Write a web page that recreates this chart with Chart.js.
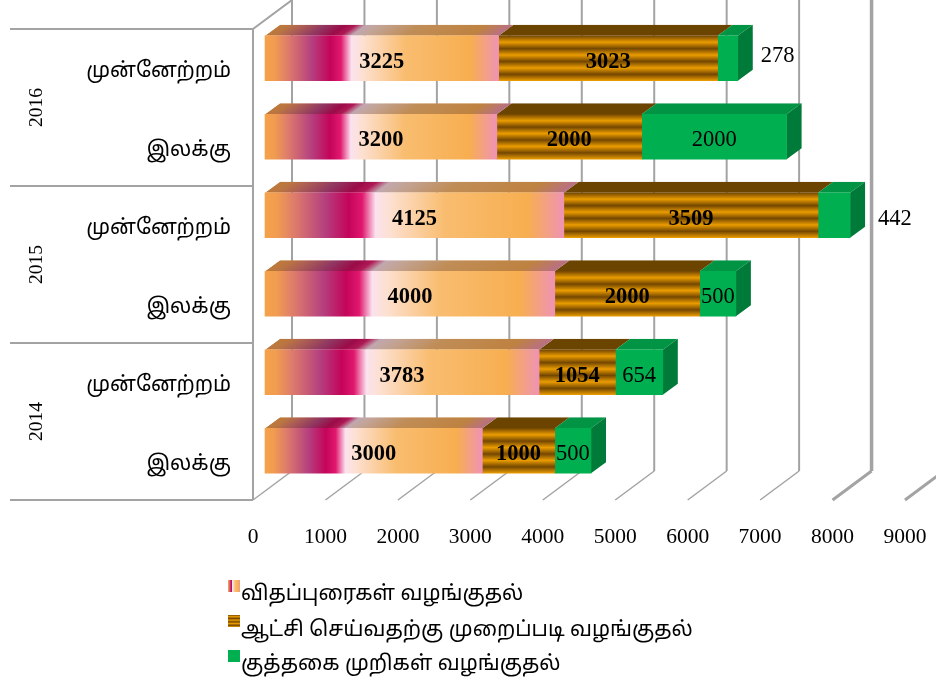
<!DOCTYPE html>
<html>
<head>
<meta charset="utf-8">
<style>
  html, body { margin: 0; background: #fff; }
  #wrap { width: 936px; height: 683px; }
</style>
<script src="https://cdn.jsdelivr.net/npm/chart.js@4"></script>
</head>
<body>
<div id="wrap"><canvas id="chart"></canvas></div>
<script>
const PROGRESS = 'முன்னேற்றம்';
const TARGET = 'இலக்கு';
const categories = [PROGRESS, TARGET, PROGRESS, TARGET, PROGRESS, TARGET];
const years = ['2016', '2015', '2014'];
const seriesNames = ['விதப்புரைகள் வழங்குதல்', 'ஆட்சி செய்வதற்கு முறைப்படி வழங்குதல்', 'குத்தகை முறிகள் வழங்குதல்'];
const recommendations = [3225, 3200, 4125, 4000, 3783, 3000];
const administration = [3023, 2000, 3509, 2000, 1054, 1000];
const leaseDeeds = [278, 2000, 442, 500, 654, 500];
const xTicks = [0, 1000, 2000, 3000, 4000, 5000, 6000, 7000, 8000, 9000];

const SERIF = '"Liberation Serif", "Times New Roman", serif';
const TAMIL = '"Noto Sans", "Noto Sans Tamil", "Lohit Tamil", sans-serif';
const GRID = '#a3a3a3';
const DEPTH_X = 15, DEPTH_Y = 11;      // top/side faces of a bar
const WALL_X = 39, WALL_Y = 29;        // floor depth, front plane to back wall
const BAR_SHIFT_PX = 12, BAR_SHIFT_ROWS = 10 / 78.5;
const PX_PER_UNIT = 652 / 9000;

const GREEN = '#00b050', GREEN_TOP = '#009444', GREEN_SIDE = '#007a38';
const BROWN_TOP = '#6b4400';

const sunsetStops = [
  [0, '#f5a24a'], [0.04, '#f19c50'], [0.1, '#dd7b6c'], [0.2, '#b5407f'], [0.28, '#c4045a'], [0.325, '#e0186e'],
  [0.37, '#fbe2ee'], [0.42, '#fde0d0'], [0.6, '#f9bd70'], [0.88, '#f7ae50'], [1, '#ef93b4']
];

function sunsetGradient(c, x0, x1) {
  const g = c.createLinearGradient(x0, 0, x1, 0);
  sunsetStops.forEach(s => g.addColorStop(s[0], s[1]));
  return g;
}

function stripeGradient(c, top, height) {
  const g = c.createLinearGradient(0, top, 0, top + height);
  const n = 7;
  for (let i = 0; i <= n; i++) {
    g.addColorStop(i / n, i % 2 ? '#ea9c00' : '#744700');
  }
  return g;
}

function sunsetFill(context) {
  const x = context.chart.scales.xBar;
  const x0 = x ? x.getPixelForValue(0) : NaN;
  // scales have no size yet on the first pass, before layout
  if (context.type !== 'data' || !isFinite(x0)) return '#f7ae50';
  return sunsetGradient(context.chart.ctx, x0, x.getPixelForValue(context.raw.x));
}

function stripeFill(context) {
  const yScale = context.chart.scales.yBar;
  const y = yScale && context.type === 'data' ? yScale.getPixelForValue(context.dataIndex) : NaN;
  if (!isFinite(y)) return '#ea9c00';
  return stripeGradient(context.chart.ctx, y - 22.5, 45);
}

function toPoints(values) {
  return values.map((v, i) => ({ x: v, y: i }));
}

// top and end faces of the bars, from the library's bar elements
const bar3d = {
  id: 'bar3d',
  beforeDatasetsDraw(chart) {
    const c = chart.ctx;
    chart.data.datasets.forEach((ds, di) => {
      chart.getDatasetMeta(di).data.forEach(bar => {
        const { x, y, base, height } = bar.getProps(['x', 'y', 'base', 'height'], true);
        const top = y - height / 2, bottom = y + height / 2;
        c.save();
        c.beginPath();
        c.moveTo(base, top);
        c.lineTo(base + DEPTH_X, top - DEPTH_Y);
        c.lineTo(x + DEPTH_X, top - DEPTH_Y);
        c.lineTo(x, top);
        c.closePath();
        c.clip();
        if (di === 0) {
          const k = DEPTH_X / DEPTH_Y;
          c.transform(1, 0, -k, 1, k * top, 0);
          c.fillStyle = sunsetGradient(c, base, x);
          c.fillRect(base, top - DEPTH_Y, x - base, DEPTH_Y);
          c.fillStyle = 'rgba(60,30,30,0.3)';
          c.fillRect(base, top - DEPTH_Y, x - base, DEPTH_Y);
        } else {
          c.fillStyle = di === 1 ? BROWN_TOP : GREEN_TOP;
          c.fillRect(base - 1, top - DEPTH_Y, x - base + DEPTH_X + 2, DEPTH_Y);
        }
        c.restore();
        if (di === 2) {
          c.fillStyle = GREEN_SIDE;
          c.beginPath();
          c.moveTo(x, top);
          c.lineTo(x + DEPTH_X, top - DEPTH_Y);
          c.lineTo(x + DEPTH_X, bottom - DEPTH_Y);
          c.lineTo(x, bottom);
          c.closePath();
          c.fill();
        }
      });
    });
  },
  afterDatasetsDraw(chart) {
    const c = chart.ctx;
    c.save();
    c.fillStyle = '#000';
    c.textBaseline = 'middle';
    chart.data.datasets.forEach((ds, di) => {
      chart.getDatasetMeta(di).data.forEach((bar, i) => {
        const v = ds.data[i].x;
        c.font = (di < 2 ? 'bold ' : '') + '22.5px ' + SERIF;
        if (di === 2 && v < 500) {
          // too narrow: value sits right of the bar (the two were placed by hand in the original)
          c.textAlign = 'left';
          if (i === 0) c.fillText(String(v), bar.x + 23, bar.y - 2);
          else c.fillText(String(v), bar.x + 28, bar.y + 4);
        } else {
          c.textAlign = 'center';
          c.fillText(String(v), (bar.x + bar.base) / 2, bar.y + 3.5);
        }
      });
    });
    c.restore();
  }
};

// back wall, floor, left wall, year groups and legend
const furniture = {
  id: 'furniture',
  beforeDatasetsDraw(chart) {
    const c = chart.ctx;
    const x = chart.scales.x, y = chart.scales.y;
    const { top, bottom, left } = chart.chartArea;
    c.save();
    c.lineCap = 'butt';
    xTicks.forEach(t => {
      const px = x.getPixelForValue(t);
      const heavy = t === 8000;
      c.strokeStyle = GRID;
      c.lineWidth = heavy ? 3.5 : 2;
      c.beginPath();
      c.moveTo(px + WALL_X, -2);
      c.lineTo(px + WALL_X, bottom - WALL_Y);
      c.stroke();
      c.lineWidth = t >= 8000 ? 3 : 1.5;
      c.beginPath();
      c.moveTo(px + WALL_X, bottom - WALL_Y);
      c.lineTo(px, bottom);
      c.stroke();
    });
    c.lineWidth = 2;
    c.beginPath();
    c.moveTo(left + WALL_X, top - WALL_Y);
    c.lineTo(left, top);
    c.lineTo(left, bottom);
    c.stroke();
    const band = (bottom - top) / categories.length;
    years.forEach((yr, i) => {
      const y0 = y.getPixelForValue(i * 2) - band / 2;
      c.beginPath();
      c.moveTo(10, y0);
      c.lineTo(left, y0);
      c.stroke();
      c.save();
      c.translate(37, y0 + band);
      c.rotate(-Math.PI / 2);
      c.fillStyle = '#000';
      c.font = '19.5px ' + SERIF;
      c.textAlign = 'center';
      c.textBaseline = 'middle';
      c.fillText(yr, 0, 0);
      c.restore();
    });
    c.beginPath();
    c.moveTo(10, bottom);
    c.lineTo(left, bottom);
    c.stroke();
    c.restore();
  },
  afterDraw(chart) {
    const c = chart.ctx;
    const legendX = 228, rowY = [594, 630, 664], boxTop = [580, 615, 650];
    c.save();
    c.font = '21px ' + TAMIL;
    c.textBaseline = 'middle';
    c.textAlign = 'left';
    chart.data.datasets.forEach((ds, i) => {
      c.fillStyle = '#000';
      c.fillText(ds.label, legendX + 13, rowY[i]);
      if (i === 0) c.fillStyle = sunsetGradient(c, legendX, legendX + 12);
      if (i === 1) c.fillStyle = stripeGradient(c, boxTop[i], 12);
      if (i === 2) c.fillStyle = GREEN;
      c.fillRect(legendX, boxTop[i], 12, 12);
    });
    c.restore();
  }
};

new Chart(document.getElementById('chart'), {
  type: 'bar',
  plugins: [furniture, bar3d],
  data: {
    labels: categories,
    datasets: [
      { label: seriesNames[0], data: toPoints(recommendations), backgroundColor: sunsetFill },
      { label: seriesNames[1], data: toPoints(administration), backgroundColor: stripeFill },
      { label: seriesNames[2], data: toPoints(leaseDeeds), backgroundColor: GREEN }
    ].map(d => Object.assign(d, { xAxisID: 'xBar', yAxisID: 'yBar', barThickness: 45, borderWidth: 0 }))
  },
  options: {
    indexAxis: 'y',
    responsive: true,
    maintainAspectRatio: false,
    animation: false,
    layout: { padding: { top: 29, right: 31, bottom: 123, left: 0 } },
    plugins: { legend: { display: false }, tooltip: { enabled: false } },
    scales: {
      x: {
        type: 'linear',
        position: 'bottom',
        min: 0,
        max: 9000,
        afterBuildTicks(scale) { scale.ticks = xTicks.map(v => ({ value: v })); },
        afterFit(scale) { scale.height = 60; scale.paddingLeft = 0; scale.paddingRight = 0; },
        grid: { display: false },
        border: { display: false },
        ticks: {
          autoSkip: false,
          maxRotation: 0,
          padding: 16,
          color: '#000',
          font: { family: SERIF, size: 21.5 },
          callback: v => String(v)
        }
      },
      y: {
        type: 'category',
        position: 'left',
        offset: true,
        afterFit(scale) { scale.width = 253; scale.paddingTop = 0; scale.paddingBottom = 0; },
        grid: { display: false },
        border: { display: false },
        ticks: {
          padding: 14,
          color: '#000',
          font: { family: TAMIL, size: 21, lineHeight: '6px' },
          // blank first line pushes the label down half a line height
          callback(value) { return ['', this.getLabelForValue(value)]; }
        }
      },
      // bars sit a little behind the front plane, so their axes are shifted
      xBar: {
        type: 'linear',
        display: false,
        stacked: true,
        min: -BAR_SHIFT_PX / PX_PER_UNIT,
        max: 9000 - BAR_SHIFT_PX / PX_PER_UNIT
      },
      yBar: {
        type: 'linear',
        display: false,
        stacked: true,
        offset: false,
        reverse: true,
        min: -0.5 + BAR_SHIFT_ROWS,
        max: 5.5 + BAR_SHIFT_ROWS
      }
    }
  }
});
</script>
</body>
</html>
